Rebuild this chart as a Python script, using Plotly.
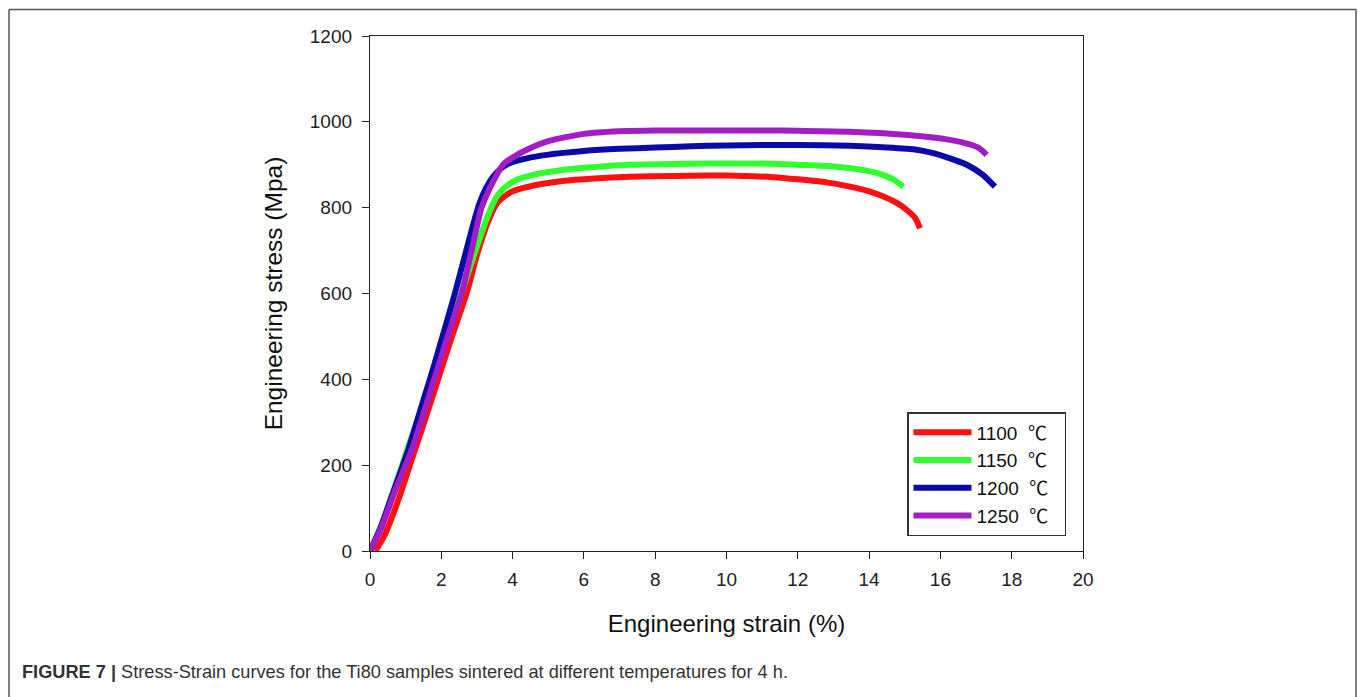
import plotly.graph_objects as go

# ---- data ----
strain_1100 = [0.15, 0.4, 0.8, 1.26, 1.6, 1.91, 2.3, 2.71, 3.0, 3.3, 3.56, 3.8, 4.0, 4.5, 5.4, 6.3, 7.3, 8.5, 9.5, 10.5, 11.3, 12.0, 12.8, 13.46, 14.0, 14.4, 14.8, 15.05, 15.3, 15.43]
stress_1100 = [0, 35, 120, 235, 320, 400, 500, 600, 690, 765, 810, 828, 838, 850, 862, 868, 872, 874, 875, 874, 871, 866, 859, 849, 838, 826, 810, 795, 775, 752]

strain_1150 = [0.0, 0.3, 0.7, 1.1, 1.5, 2.0, 2.5, 3.0, 3.3, 3.55, 3.8, 4.12, 4.6, 5.4, 6.3, 7.3, 8.5, 9.5, 10.5, 11.5, 12.3, 13.0, 13.46, 14.0, 14.4, 14.7, 14.96]
stress_1150 = [0, 55, 150, 250, 345, 460, 585, 710, 780, 825, 848, 865, 877, 888, 895, 900, 902, 903, 903, 902, 899, 896, 892, 885, 876, 865, 849]

strain_1200 = [0.0, 0.3, 0.6, 1.07, 1.4, 1.68, 2.0, 2.38, 2.7, 3.03, 3.25, 3.45, 3.7, 3.93, 4.4, 4.96, 6.0, 7.0, 8.0, 9.0, 10.0, 11.0, 12.0, 13.46, 14.5, 15.33, 15.8, 16.27, 16.74, 17.2, 17.53]
stress_1200 = [0, 55, 125, 235, 325, 400, 490, 600, 700, 800, 845, 872, 893, 904, 915, 923, 932, 937, 940, 943, 945, 946, 946, 944, 940, 935, 927, 915, 900, 876, 849]

strain_1250 = [0.0, 0.3, 0.7, 1.17, 1.5, 1.8, 2.2, 2.57, 2.85, 3.13, 3.45, 3.73, 4.0, 4.4, 5.0, 6.0, 7.0, 8.0, 9.0, 10.0, 11.0, 12.0, 13.46, 15.0, 16.27, 16.8, 17.1, 17.3]
stress_1250 = [0, 50, 140, 235, 320, 400, 505, 600, 700, 800, 860, 900, 917, 935, 955, 972, 978, 980, 980, 980, 980, 979, 977, 970, 958, 948, 938, 923]

series_temps = ["1100", "1150", "1200", "1250"]
series_colors = ["#ff1010", "#30ff30", "#0a0aa8", "#a21ec4"]
series_x = [strain_1100, strain_1150, strain_1200, strain_1250]
series_y = [stress_1100, stress_1150, stress_1200, stress_1250]
unit = "℃"

x_ticks = [0, 2, 4, 6, 8, 10, 12, 14, 16, 18, 20]
y_ticks = [0, 200, 400, 600, 800, 1000, 1200]

x_title = "Engineering strain (%)"
y_title = "Engineering stress (Mpa)"
caption = "<b>FIGURE 7 |</b> Stress-Strain curves for the Ti80 samples sintered at different temperatures for 4 h."

# ---- figure ----
W, H = 1358, 697
# target page pixel positions of the plot area
PL, PR, PT, PB = 370, 1083, 36, 551
ML, MT, MR, MB = PL, PT, W - PR, H - PB
PW, PH = PR - PL, PB - PT

def px_x(p):
    return (p - PL) / PW

def px_y(p):
    return (PB - p) / PH

FONT = "Liberation Sans, Arial, sans-serif"

fig = go.Figure()
for xs, ys, t, col in zip(series_x, series_y, series_temps, series_colors):
    name = (t + "\u00a0 <span style='font-family:Noto Sans CJK SC'>" + unit + "</span>\u00a0\u00a0")
    fig.add_trace(go.Scatter(x=xs, y=ys, mode="lines", name=name,
                             line=dict(color=col, width=6, shape="spline", smoothing=0.6)))

axis_font = dict(family=FONT, size=19, color="#222")
fig.update_layout(
    width=W, height=H,
    margin=dict(l=ML, r=MR, t=MT, b=MB),
    paper_bgcolor="white", plot_bgcolor="white",
    font=dict(family=FONT, color="#222"),
    xaxis=dict(range=[0, 20], tickvals=x_ticks, ticks="outside", ticklen=7, tickwidth=1.2,
               tickcolor="#222", showline=True, linecolor="#222", linewidth=1.3, mirror=True,
               showgrid=False, zeroline=False, tickfont=axis_font, ticklabelstandoff=4,
               title=dict(text=x_title, font=dict(size=24, color="#111"), standoff=26)),
    yaxis=dict(range=[0, 1200], tickvals=y_ticks, ticks="outside", ticklen=7, tickwidth=1.2,
               tickcolor="#222", showline=True, linecolor="#222", linewidth=1.3, mirror=True,
               showgrid=False, zeroline=False, tickfont=axis_font, ticklabelstandoff=6,
               title=dict(text=y_title, font=dict(size=24.5, color="#111"), standoff=20)),
    legend=dict(x=px_x(907), y=px_y(412), xanchor="left", yanchor="top",
                bordercolor="#333", borderwidth=1.5, bgcolor="white",
                font=dict(family=FONT, size=19, color="#111"),
                tracegroupgap=0, itemwidth=58),
    showlegend=True,
)

# outer frame of the figure panel
frame = dict(color="#555", width=1.5)
fig.add_shape(type="line", xref="paper", yref="paper", x0=px_x(9), x1=px_x(1356), y0=px_y(9.5), y1=px_y(9.5), line=frame)
fig.add_shape(type="line", xref="paper", yref="paper", x0=px_x(9), x1=px_x(9), y0=px_y(9.5), y1=px_y(710), line=frame)
fig.add_shape(type="line", xref="paper", yref="paper", x0=px_x(1356), x1=px_x(1356), y0=px_y(9.5), y1=px_y(710), line=frame)

fig.add_annotation(text=caption, xref="paper", yref="paper", x=px_x(20), y=px_y(672),
                   xanchor="left", yanchor="middle", showarrow=False,
                   font=dict(family=FONT, size=18.2, color="#333"))

fig.write_html("out.html", config={"displayModeBar": False},
               post_script="document.body.style.margin='0';document.body.style.overflow='hidden';")
